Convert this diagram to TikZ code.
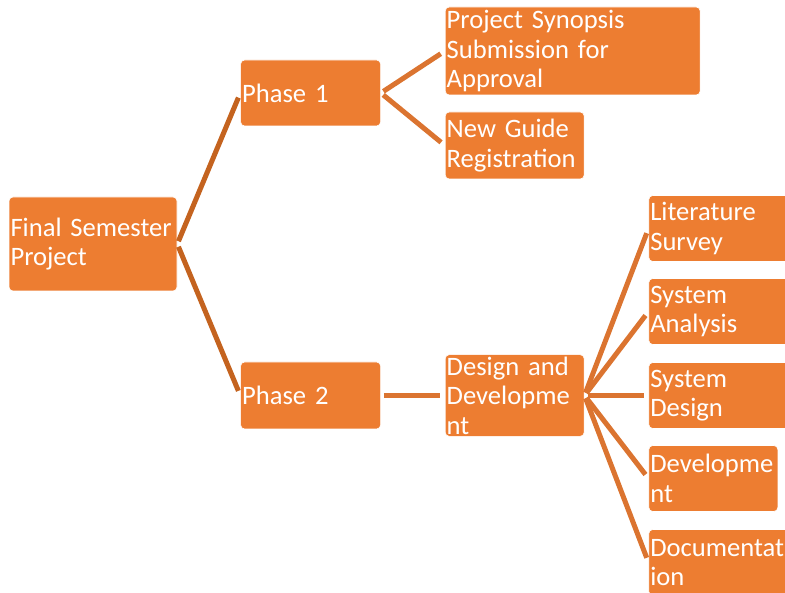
\documentclass[tikz,border=0pt]{standalone}
\usepackage{fontspec}
\setmainfont[WordSpace={0.6,0,0}]{Carlito}
\usetikzlibrary{positioning}

\definecolor{boxfill}{HTML}{ED7D31}
\definecolor{linkdark}{HTML}{C4631F}
\definecolor{linkmid}{HTML}{DB7430}

\begin{document}
\begin{tikzpicture}[
    x=1pt, y=-1pt,
    box/.style={draw=white, line width=0.6pt, fill=boxfill, rectangle, rounded corners=4pt,
        inner xsep=1.5pt, inner ysep=2pt, align=left, text=white, font=\fontsize{26.6}{29.5}\selectfont},
    link/.style={line width=5pt, shorten <=3pt, shorten >=5pt}
]
    \useasboundingbox (0,0) rectangle (785,593);

    \node[box, text width=165pt, minimum height=94pt] (root) at (93,244) {Final Semester\\Project};
    \node[box, text width=137pt, minimum height=66pt, right=63pt of root, yshift=151pt] (ph1) {Phase 1};
    \node[box, text width=137pt, minimum height=67pt, right=63pt of root, yshift=-151.5pt] (ph2) {Phase 2};

    \node[box, text width=252pt, minimum height=88pt, right=64pt of ph1, yshift=42pt] (syn) {Project Synopsis\\Submission for\\Approval};
    \node[box, text width=136pt, minimum height=67pt, right=64pt of ph1, yshift=-52.5pt] (guide) {New Guide\\Registration};
    \node[box, text width=136pt, minimum height=80pt, right=64pt of ph2] (dev) {Design and\\Developme\\nt};

    \node[box, text width=137pt, minimum height=66pt, right=64pt of dev, yshift=167pt] (lit) {Literature\\Survey};
    \node[box, text width=137pt, minimum height=66pt, right=64pt of dev, yshift=84pt] (ana) {System\\Analysis};
    \node[box, text width=137pt, minimum height=66pt, right=64pt of dev] (sdes) {System\\Design};
    \node[box, text width=126pt, minimum height=66pt, right=64pt of dev, yshift=-83pt] (impl) {Developme\\nt};
    \node[box, text width=137pt, minimum height=66pt, right=64pt of dev, yshift=-167pt] (docu) {Documentat\\ion};

    \draw[link, linkdark] (root.east) -- (ph1.west);
    \draw[link, linkdark] (root.east) -- (ph2.west);
    \draw[link, linkmid] (ph1.east) -- (syn.west);
    \draw[link, linkmid] (ph1.east) -- (guide.west);
    \draw[link, linkmid] (ph2.east) -- (dev.west);
    \foreach \n in {lit, ana, sdes, impl, docu}
        \draw[link, linkmid] (dev.east) -- (\n.west);
\end{tikzpicture}
\end{document}
